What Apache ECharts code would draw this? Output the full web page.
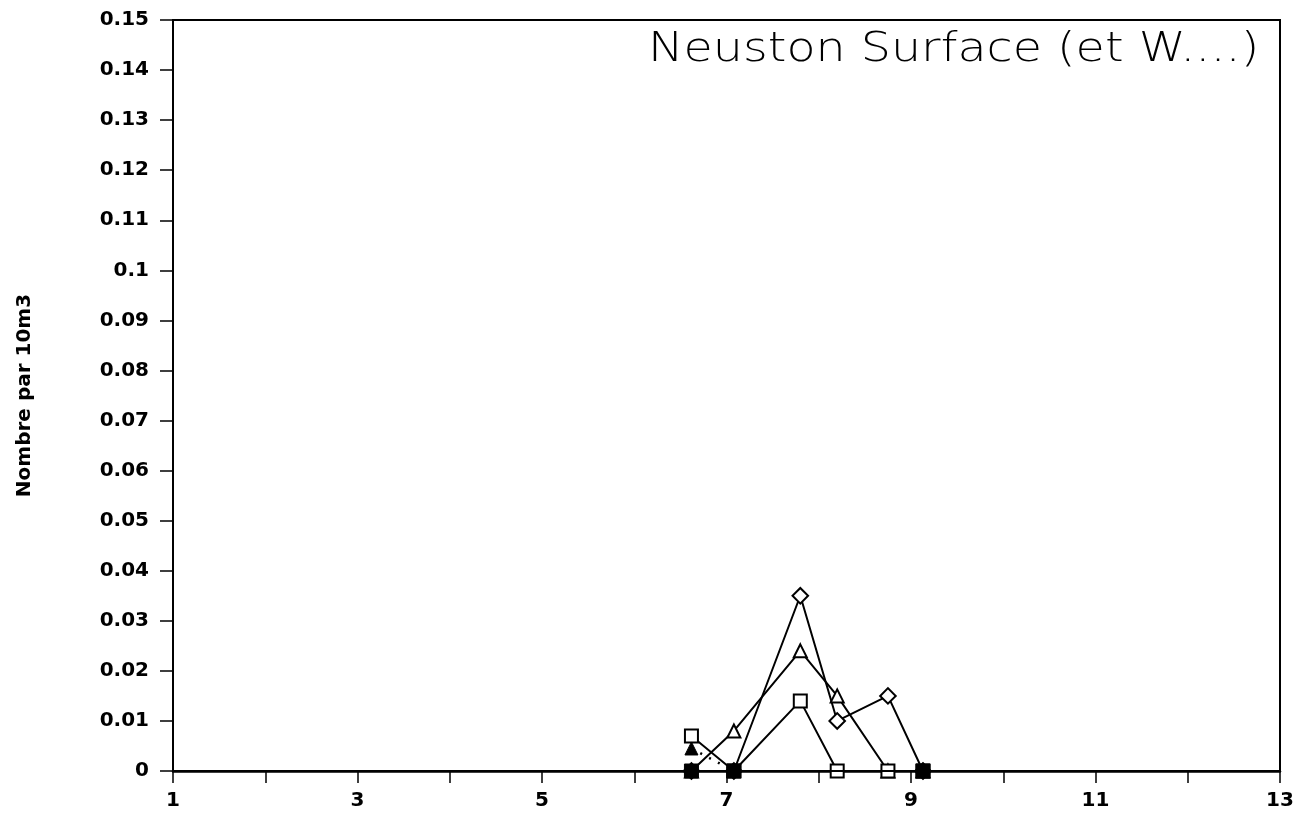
<!DOCTYPE html>
<html>
<head>
<meta charset="utf-8">
<script src="https://cdn.jsdelivr.net/npm/echarts@6/dist/echarts.min.js"></script>
<style>
  html, body { margin: 0; padding: 0; background: #fff; }
  #chart { width: 1311px; height: 823px; }
</style>
</head>
<body>
<div id="chart"></div>
<script>
// Sampling dates (x position) and densities per 10 m3 for each taxon
const dates = [6.62, 7.08, 7.8, 8.2, 8.75, 9.13];
const diamondValues = [0, 0, 0.035, 0.010, 0.015, 0];
const triangleValues = [0, 0.008, 0.024, 0.015, 0, 0];
const squareValues = [0.007, 0, 0.014, 0, 0, 0];
const filledTriangleDates = [6.62, 7.08];
const filledTriangleValues = [0.0045, 0];
const filledSquareDates = [6.62, 7.08, 9.13];
const filledSquareValues = [0, 0, 0];

const titleText = 'Neuston Surface (et W....)';
const yAxisTitle = 'Nombre par 10m3';

const pairs = (xs, ys) => xs.map((x, i) => [x, ys[i]]);

const chart = echarts.init(document.getElementById('chart'), null, { renderer: 'canvas' });

const openStyle = { color: '#fff', borderColor: '#000', borderWidth: 2 };
const lineStyle = { color: '#000', width: 2 };
const tickFont = { color: '#000', fontFamily: 'DejaVu Sans', fontWeight: 'bold', fontSize: 20 };

chart.setOption({
  animation: false,
  backgroundColor: '#fff',
  // wide, thin heading inside the top-right corner of the frame
  graphic: [{
    type: 'text',
    x: 648, y: 30,
    scaleX: 1.16,
    style: {
      text: titleText,
      fontFamily: 'DejaVu Sans', fontWeight: 200, fontSize: 41,
      fill: '#000', textVerticalAlign: 'top'
    }
  }],
  grid: {
    left: 173, right: 31, top: 20, bottom: 52,
    show: true, borderColor: '#000', borderWidth: 2, backgroundColor: 'transparent'
  },
  xAxis: {
    type: 'value', min: 1, max: 13, interval: 1,
    axisLine: { show: true, onZero: false, lineStyle: { color: '#000', width: 2.5 } },
    axisTick: { show: true, inside: false, length: 12, lineStyle: { color: '#000', width: 1.5 } },
    splitLine: { show: false },
    axisLabel: Object.assign({ margin: 20 }, tickFont, {
      formatter: v => (Math.round(v) % 2 === 1 ? String(Math.round(v)) : '')
    })
  },
  yAxis: {
    type: 'value', min: 0, max: 0.15, interval: 0.01,
    name: yAxisTitle, nameLocation: 'middle', nameRotate: 90, nameGap: 138,
    nameTextStyle: { fontFamily: 'DejaVu Sans', fontWeight: 'bold', fontSize: 20, color: '#000' },
    axisLine: { show: true, lineStyle: { color: '#000', width: 2 } },
    axisTick: { show: true, length: 13, lineStyle: { color: '#000', width: 1.5 } },
    splitLine: { show: false },
    axisLabel: Object.assign({ margin: 24 }, tickFont, {
      formatter: v => String(parseFloat(v.toFixed(2)))
    })
  },
  series: [
    {
      name: 'diamond', type: 'line', data: pairs(dates, diamondValues),
      symbol: 'rect', symbolSize: 11, symbolRotate: 45, showAllSymbol: true,
      lineStyle, itemStyle: openStyle, z: 2
    },
    {
      name: 'triangle', type: 'line', data: pairs(dates, triangleValues),
      symbol: 'triangle', symbolSize: 13, showAllSymbol: true,
      lineStyle, itemStyle: openStyle, z: 3
    },
    {
      name: 'square', type: 'line', data: pairs(dates, squareValues),
      symbol: 'rect', symbolSize: 13, showAllSymbol: true,
      lineStyle, itemStyle: openStyle, z: 4
    },
    {
      name: 'filledTriangle', type: 'line', data: pairs(filledTriangleDates, filledTriangleValues),
      symbol: 'triangle', symbolSize: 13, showAllSymbol: true,
      lineStyle: { color: '#000', width: 2.5, type: [2, 8] },
      itemStyle: { color: '#000', borderColor: '#000' }, z: 5
    },
    {
      name: 'filledSquare', type: 'line', data: pairs(filledSquareDates, filledSquareValues),
      symbol: 'rect', symbolSize: 14, showAllSymbol: true,
      lineStyle, itemStyle: { color: '#000', borderColor: '#000' }, z: 6
    }
  ]
});
</script>
</body>
</html>
